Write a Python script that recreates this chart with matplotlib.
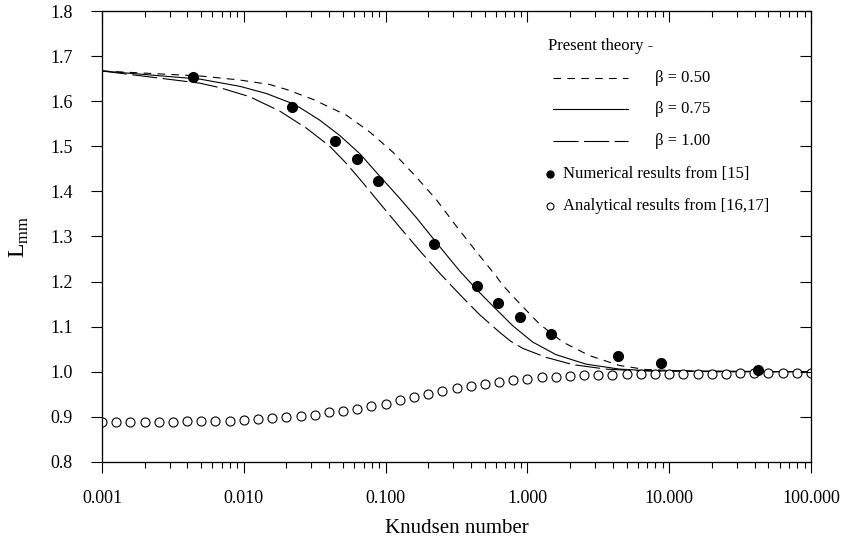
import numpy as np
import matplotlib
matplotlib.use('Agg')
import matplotlib.pyplot as plt
from matplotlib.ticker import FixedLocator, FuncFormatter, LogLocator, NullFormatter

# --- datos ---
kn_b050 = [0.001, 0.0049, 0.00937, 0.01524, 0.0200, 0.0308, 0.0529, 0.0771, 0.1125,
           0.1645, 0.2275, 0.315, 0.435, 0.602, 0.67, 0.879, 1.216, 1.774, 2.734,
           4.45, 6.86, 20.0, 100.0]
L_b050 = [1.667, 1.656, 1.647, 1.637, 1.626, 1.604, 1.569, 1.532, 1.487,
          1.432, 1.382, 1.323, 1.267, 1.212, 1.192, 1.152, 1.106, 1.066, 1.036,
          1.014, 1.005, 1.000, 1.000]

kn_b075 = [0.001, 0.0049, 0.00937, 0.01445, 0.0211, 0.0248, 0.0343, 0.0475, 0.0656,
           0.0908, 0.1255, 0.1645, 0.240, 0.332, 0.459, 0.570, 0.789, 1.089, 1.592,
           2.590, 4.45, 7.59, 100.0]
L_b075 = [1.667, 1.649, 1.633, 1.617, 1.597, 1.586, 1.558, 1.524, 1.484,
          1.434, 1.385, 1.342, 1.278, 1.224, 1.176, 1.146, 1.102, 1.066, 1.038,
          1.017, 1.006, 1.002, 1.000]

kn_b100 = [0.001, 0.0049, 0.00678, 0.0110, 0.01794, 0.0277, 0.0404, 0.0529, 0.0692,
           0.0908, 0.1255, 0.1735, 0.240, 0.332, 0.412, 0.459, 0.635, 0.76, 0.927,
           1.355, 2.086, 3.58, 6.15, 100.0]
L_b100 = [1.667, 1.640, 1.630, 1.610, 1.578, 1.540, 1.500, 1.462, 1.419,
          1.374, 1.321, 1.269, 1.219, 1.172, 1.142, 1.127, 1.088, 1.068, 1.052,
          1.032, 1.016, 1.006, 1.002, 1.000]

# resultados numericos [15]
kn_num = [0.0044, 0.022, 0.044, 0.0625, 0.088, 0.220, 0.44, 0.618, 0.883, 1.46,
          4.35, 8.73, 42.6]
L_num = [1.653, 1.587, 1.512, 1.471, 1.423, 1.284, 1.191, 1.153, 1.122, 1.083,
         1.036, 1.019, 1.003]

# resultados analiticos [16,17]: 10 puntos por decada
kn_ana = [10 ** (-3 + 0.1 * k) for k in range(51)]
L_ana = [0.889, 0.889, 0.889, 0.889, 0.889, 0.889, 0.8905, 0.8905, 0.891, 0.892,
         0.893, 0.8945, 0.8965, 0.899, 0.902, 0.9045, 0.910, 0.913, 0.9185, 0.924,
         0.9295, 0.9375, 0.9435, 0.9516, 0.957, 0.963, 0.968, 0.973, 0.977, 0.981,
         0.984, 0.988, 0.989, 0.991, 0.9925, 0.993, 0.994, 0.9945, 0.995, 0.995,
         0.9955, 0.996, 0.996, 0.996, 0.996, 0.9965, 0.9965, 0.9965, 0.997, 0.997,
         0.997]

xticks = [0.001, 0.01, 0.1, 1, 10, 100]
yticks = [0.8, 0.9, 1.0, 1.1, 1.2, 1.3, 1.4, 1.5, 1.6, 1.7, 1.8]

plt.rcParams['font.family'] = ['Liberation Serif', 'DejaVu Serif']
plt.rcParams['mathtext.fontset'] = 'custom'
plt.rcParams['mathtext.rm'] = 'Liberation Serif'
plt.rcParams['lines.scale_dashes'] = False

fig = plt.figure(figsize=(8.41, 5.5), dpi=100, facecolor='white')
ax = fig.add_axes([102 / 841, 88 / 550, 709 / 841, 451 / 550])

lw = 0.8
ax.plot(kn_b050, L_b050, color='black', lw=lw, dashes=(5.5, 4.5))
ax.plot(kn_b075, L_b075, color='black', lw=lw)
ax.plot(kn_b100, L_b100, color='black', lw=lw, dashes=(18, 4))
ax.plot(kn_ana, L_ana, 'o', ms=6.5, mfc='white', mec='black', mew=0.8, zorder=3)
ax.plot(kn_num, L_num, 'o', ms=7, color='black', zorder=4)

ax.set_xscale('log')
ax.set_xlim(0.001, 100)
ax.set_ylim(0.8, 1.8)
ax.xaxis.set_major_locator(FixedLocator(xticks))
ax.xaxis.set_major_formatter(FuncFormatter(lambda v, p: f'{v:.3f}'))
ax.xaxis.set_minor_locator(LogLocator(base=10, subs=np.arange(2, 10)))
ax.xaxis.set_minor_formatter(NullFormatter())
ax.yaxis.set_major_locator(FixedLocator(yticks))
ax.yaxis.set_major_formatter(FuncFormatter(lambda v, p: f'{v:.1f}'))

ax.tick_params(axis='both', which='major', direction='out', length=8, width=0.8,
               labelsize=13)
ax.tick_params(axis='y', which='major', pad=13)
ax.tick_params(axis='x', which='major', pad=12)
ax.tick_params(axis='x', which='minor', direction='out', length=4, width=0.8)
for s in ax.spines.values():
    s.set_linewidth(0.8)

# ticks hacia dentro en los lados superior y derecho
axt = ax.twiny()
axt.set_xscale('log')
axt.set_xlim(ax.get_xlim())
axt.xaxis.set_major_locator(FixedLocator(xticks))
axt.xaxis.set_minor_locator(LogLocator(base=10, subs=np.arange(2, 10)))
axt.tick_params(axis='x', which='major', direction='in', length=8, width=0.8,
                labeltop=False)
axt.tick_params(axis='x', which='minor', direction='in', length=4, width=0.8)
axr = ax.twinx()
axr.set_ylim(ax.get_ylim())
axr.yaxis.set_major_locator(FixedLocator(yticks))
axr.tick_params(axis='y', direction='in', length=8, width=0.8, labelright=False)

ax.set_xlabel('Knudsen number', fontsize=15, labelpad=9)
ax.set_ylabel(r'L$_{\rm mm}$', fontsize=17, labelpad=14)

# leyenda dibujada a mano
def fx(px):
    return (px - 102) / 709

def fy(py):
    return (462 - py) / 451

T = ax.transAxes
ax.text(fx(548), fy(46), 'Present theory -', transform=T, fontsize=12, va='center')
ax.plot([fx(553), fx(628)], [fy(78)] * 2, transform=T, color='black', lw=lw,
        dashes=(5.5, 4.5), clip_on=False)
ax.plot([fx(553), fx(628)], [fy(109)] * 2, transform=T, color='black', lw=lw,
        clip_on=False)
ax.plot([fx(553), fx(628)], [fy(141)] * 2, transform=T, color='black', lw=lw,
        dashes=(18, 4), clip_on=False)
ax.text(fx(655), fy(78), '\u03b2 = 0.50', transform=T, fontsize=12, va='center')
ax.text(fx(655), fy(109), '\u03b2 = 0.75', transform=T, fontsize=12, va='center')
ax.text(fx(655), fy(141), '\u03b2 = 1.00', transform=T, fontsize=12, va='center')
ax.plot([fx(550)], [fy(174)], 'o', ms=5, color='black', transform=T, clip_on=False)
ax.text(fx(563), fy(174), 'Numerical results from [15]', transform=T, fontsize=12,
        va='center')
ax.plot([fx(550)], [fy(206)], 'o', ms=5, mfc='white', mec='black', mew=0.8,
        transform=T, clip_on=False)
ax.text(fx(563), fy(206), 'Analytical results from [16,17]', transform=T, fontsize=12,
        va='center')

fig.savefig('out.png', dpi=100, facecolor='white')
